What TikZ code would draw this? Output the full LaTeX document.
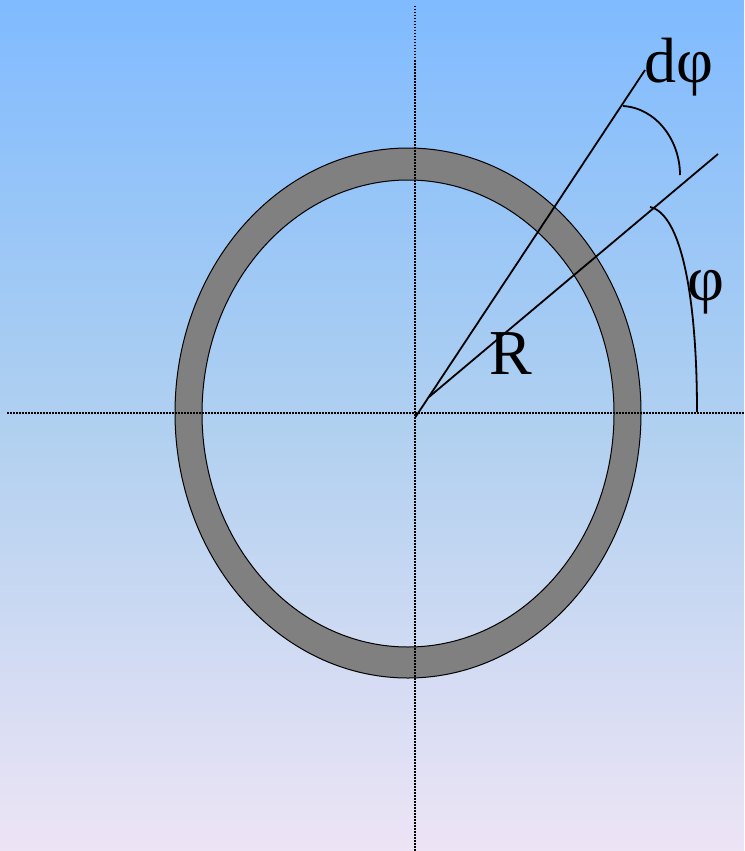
\documentclass[tikz,border=0pt]{standalone}
\usepackage{fontspec}
\setmainfont{Liberation Serif}
\begin{document}
\begin{tikzpicture}[x=1pt,y=-1pt,
  axis/.style={line width=1.8pt,dash pattern=on 1.5pt off 1.5pt},
  ray/.style={line width=1.8pt},
  lbl/.style={font=\fontsize{64}{64}\selectfont,inner sep=0pt}]
\useasboundingbox (0,0) rectangle (744,851);
\shade[top color={rgb,255:red,128;green,187;blue,255},bottom color={rgb,255:red,237;green,228;blue,245},middle color={rgb,255:red,176;green,208;blue,240}] (0,0) rectangle (744,851);
% ring
\fill[fill={rgb,255:red,128;green,128;blue,128},even odd rule]
  (408,413) ellipse [x radius=233,y radius=265]
  (408,413.5) ellipse [x radius=206,y radius=233.5];
\draw[line width=1pt] (408,413) ellipse [x radius=233,y radius=265];
\draw[line width=1pt] (408,413.5) ellipse [x radius=206,y radius=233.5];
% axes
\coordinate (vt) at (415,6);
\coordinate (vb) at (415,851);
\coordinate (hl) at (7,413);
\coordinate (hr) at (744,413);
\draw[axis] (vt) -- (vb);
\draw[axis] (hl) -- (hr);
% rays
\coordinate (O) at (415.5,417);
\coordinate (J) at (429,397);
\coordinate (T1) at (645,70);
\coordinate (T2) at (718,154);
\draw[ray] (O) -- (T1);
\draw[ray] (J) -- (T2);
% arcs
\coordinate (a1) at (623,106);
\coordinate (a2) at (680,175);
\draw[ray] (a1) .. controls (656,108) and (680,140) .. (a2);
\coordinate (b1) at (650,207);
\coordinate (b2) at (697,412);
\draw[ray] (b1) .. controls (682,214) and (697,300) .. (b2);
% labels
\node[lbl,anchor=base] (R) at (511,374) {R};
\node[lbl,anchor=base west] (dphi) at (644,82) {d\char"03C6};
\node[lbl,anchor=base] (phi) at (706,300) {\char"03C6};
\end{tikzpicture}
\end{document}
